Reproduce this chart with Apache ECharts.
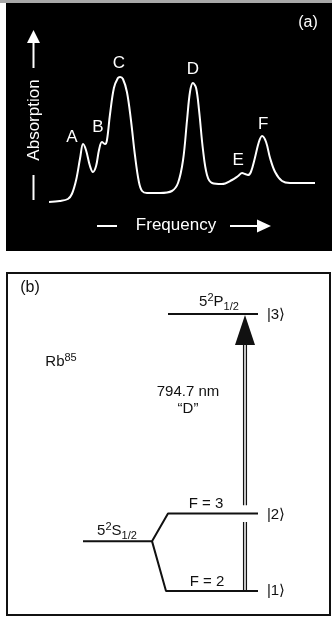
<!DOCTYPE html>
<html>
<head>
<meta charset="utf-8">
<script src="https://cdn.jsdelivr.net/npm/echarts@6/dist/echarts.min.js"></script>
<style>
html, body { margin: 0; padding: 0; background: #fff; }
#main { width: 332px; height: 618px; }
</style>
</head>
<body>
<div id="main"></div>
<script>
// (a) absorption spectrum, arbitrary units
var freq = [0, 4.1, 7.1, 8.6, 10.2, 11.7, 12.8, 13.9, 15.4, 16.5, 17.7, 18.8, 19.9, 21.1, 21.8, 22.9, 24.4, 25.9, 26.7, 27.8,
  29.3, 30.8, 32.3, 33.8, 35.0, 36.8, 41.7, 46.2, 48.5, 50.4, 51.9, 53.0, 54.1, 55.3, 56.4, 57.9, 59.4, 61.3, 65.0, 68.8,
  71.1, 72.6, 73.7, 74.8, 75.9, 77.4, 78.9, 80.1, 81.6, 83.1, 85.0, 87.6, 90.6, 100];
var absorption = [0, .008, .024, .064, .176, .352, .464, .416, .288, .24, .288, .416, .48, .464, .496, .696, .912, .992, 1.0, .984,
  .88, .656, .376, .16, .088, .072, .072, .088, .152, .336, .656, .88, .952, .912, .736, .416, .216, .152, .144, .176,
  .208, .232, .224, .216, .24, .352, .48, .528, .48, .352, .24, .168, .152, .152];
var peakNames = ['A', 'B', 'C', 'D', 'E', 'F'];
var peakFreq = [8.6, 18.4, 26.3, 54.1, 71.1, 80.5];
var peakLabelY = [0.52, 0.60, 1.11, 1.06, 0.33, 0.62];

// (b) Rb85 level scheme, schematic energies
var levelNames = ['|1\u27E9', '|2\u27E9', '|3\u27E9'];
var levelE = [0, 28, 100];
var groundE = 18;
var arrowTopE = 88.8;
var gapE = [24.9, 31.0];

var mychart = echarts.init(document.getElementById('main'));
var font = '"Liberation Sans", Arial, sans-serif';

var spectrum = freq.map(function (f, i) { return [f, absorption[i]]; });
var peaks = peakNames.map(function (n, i) { return { name: n, value: [peakFreq[i], peakLabelY[i]] }; });

var lineBlack = { color: '#111', width: 2 };
var diagSeries = [
  { data: [[0, groundE], [69, groundE], [85, levelE[1]], [175, levelE[1]]], lineStyle: lineBlack },
  { data: [[69, groundE], [83, levelE[0]], [175, levelE[0]]], lineStyle: lineBlack },
  { data: [[85, levelE[2]], [175, levelE[2]]], lineStyle: lineBlack }
];
[160.6, 163.4].forEach(function (x) {
  diagSeries.push({ data: [[x, levelE[0]], [x, gapE[0]]], lineStyle: { color: '#111', width: 1.3 } });
  diagSeries.push({ data: [[x, gapE[1]], [x, arrowTopE]], lineStyle: { color: '#111', width: 1.3 } });
});
diagSeries = diagSeries.map(function (s) {
  return { type: 'line', xAxisIndex: 1, yAxisIndex: 1, symbol: 'none', silent: true,
    data: s.data, lineStyle: s.lineStyle };
});

var txt = function (x, y, text, size, color, extra) {
  var o = { type: 'text', x: x, y: y, style: { text: text, fill: color, font: size + 'px ' + font,
    align: 'center', verticalAlign: 'middle' } };
  if (extra) { for (var k in extra) o[k] = extra[k]; }
  return o;
};
var richSup = { sup: { fontSize: 11, lineHeight: 10, verticalAlign: 'top', fill: '#111', fontFamily: font },
  sub: { fontSize: 11, lineHeight: 10, verticalAlign: 'bottom', fill: '#111', fontFamily: font } };
var richTxt = function (x, y, text) {
  return { type: 'text', x: x, y: y, style: { text: text, rich: richSup, fill: '#111', font: '15px ' + font,
    lineHeight: 20, align: 'center', verticalAlign: 'middle' } };
};

var option = {
  animation: false,
  grid: [
    { left: 49, width: 266, top: 52, height: 150 },
    { left: 83, width: 175, top: 314, height: 277 }
  ],
  xAxis: [
    { type: 'value', gridIndex: 0, min: 0, max: 100, show: false },
    { type: 'value', gridIndex: 1, min: 0, max: 175, show: false }
  ],
  yAxis: [
    { type: 'value', gridIndex: 0, min: 0, max: 1.2, show: false },
    { type: 'value', gridIndex: 1, min: 0, max: 100, show: false }
  ],
  graphic: [
    { type: 'rect', shape: { x: 0, y: 0, width: 332, height: 3 }, style: { fill: '#a8a8a8' } },
    { type: 'rect', shape: { x: 6, y: 3, width: 326, height: 248 }, style: { fill: '#000' } },
    { type: 'rect', shape: { x: 7, y: 273, width: 323, height: 342 }, style: { fill: '#fff', stroke: '#111', lineWidth: 2 } },
    txt(308, 23, '(a)', 16, '#fff'),
    // absorption arrow
    { type: 'line', shape: { x1: 33.5, y1: 68, x2: 33.5, y2: 42 }, style: { stroke: '#fff', lineWidth: 2 } },
    { type: 'polygon', shape: { points: [[27, 43], [40, 43], [33.5, 30]] }, style: { fill: '#fff' } },
    { type: 'line', shape: { x1: 33.5, y1: 175, x2: 33.5, y2: 200 }, style: { stroke: '#fff', lineWidth: 2 } },
    txt(34, 120, 'Absorption', 17, '#fff', { rotation: Math.PI / 2 }),
    // frequency arrow
    { type: 'line', shape: { x1: 97, y1: 226, x2: 117, y2: 226 }, style: { stroke: '#fff', lineWidth: 2 } },
    txt(176, 225, 'Frequency', 17, '#fff'),
    { type: 'line', shape: { x1: 230, y1: 226, x2: 258, y2: 226 }, style: { stroke: '#fff', lineWidth: 2 } },
    { type: 'polygon', shape: { points: [[257, 219.5], [257, 232.5], [271, 226]] }, style: { fill: '#fff' } },
    // (b) labels
    txt(30, 288, '(b)', 16, '#111'),
    richTxt(219, 302, '5{sup|2}P{sub|1/2}'),
    richTxt(61, 362, 'Rb{sup|85}'),
    txt(188, 392, '794.7 nm', 15, '#111'),
    txt(188, 409, '\u201CD\u201D', 15, '#111'),
    txt(206, 504, 'F = 3', 15, '#111'),
    txt(207, 582, 'F = 2', 15, '#111'),
    richTxt(117, 531, '5{sup|2}S{sub|1/2}'),
    txt(276, 315, levelNames[2], 15, '#111'),
    txt(276, 515, levelNames[1], 15, '#111'),
    txt(276, 591, levelNames[0], 15, '#111')
  ],
  series: [
    {
      type: 'line', xAxisIndex: 0, yAxisIndex: 0, data: spectrum, smooth: 0.35, symbol: 'none',
      lineStyle: { color: '#fff', width: 2 }, silent: true
    },
    {
      type: 'scatter', xAxisIndex: 0, yAxisIndex: 0, data: peaks, symbolSize: 1,
      itemStyle: { color: '#000', opacity: 1 }, silent: true,
      label: { show: true, position: 'inside', formatter: '{b}', color: '#fff', fontSize: 17, fontFamily: font }
    },
    {
      type: 'scatter', xAxisIndex: 1, yAxisIndex: 1, data: [[162, 94.2]], symbol: 'triangle',
      symbolSize: [20, 30], itemStyle: { color: '#111', opacity: 1 }, silent: true
    }
  ].concat(diagSeries)
};
mychart.setOption(option);
</script>
</body>
</html>
